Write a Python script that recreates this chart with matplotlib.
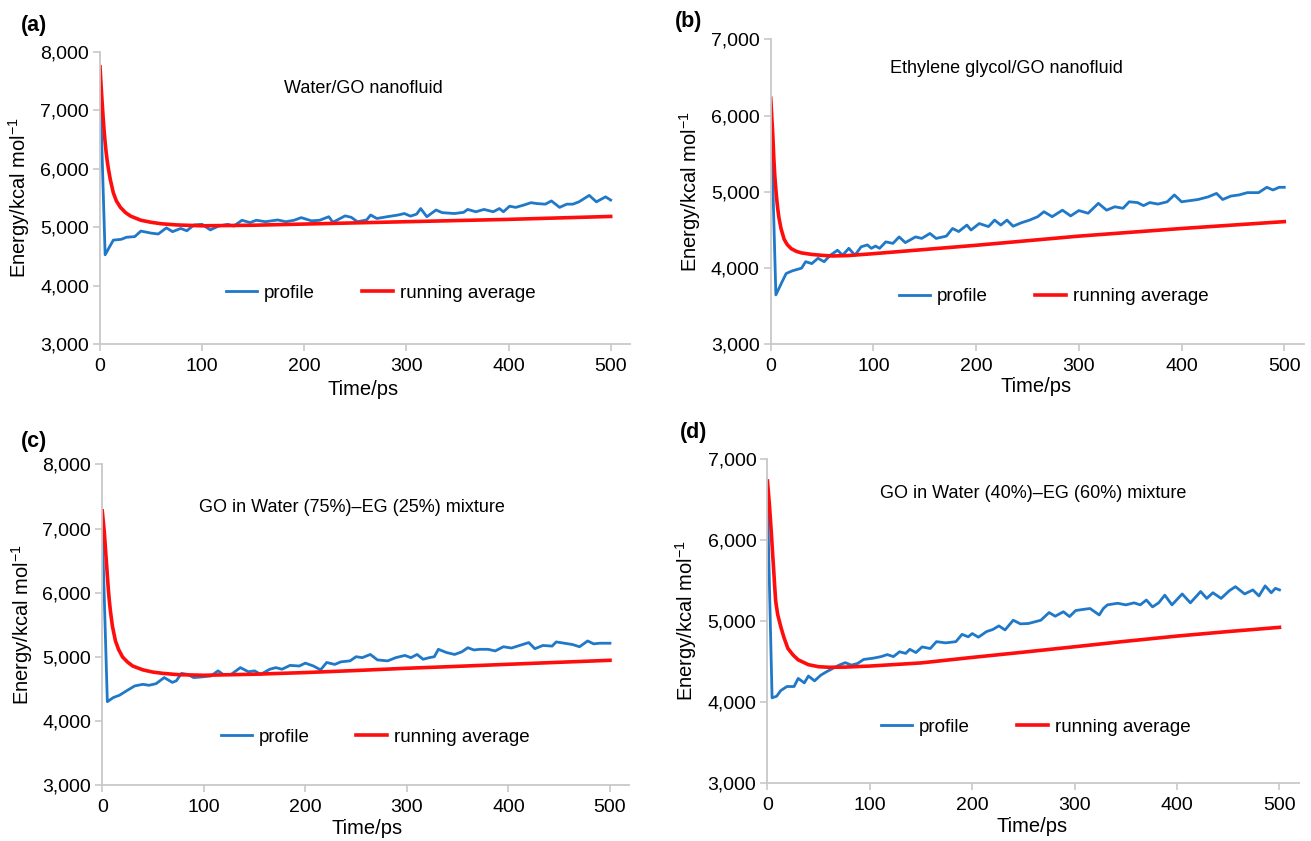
import matplotlib
matplotlib.use('Agg')
import matplotlib.pyplot as plt
from matplotlib.ticker import FuncFormatter

plt.rcParams['font.family'] = ['Liberation Sans', 'DejaVu Sans']
plt.rcParams['mathtext.fontset'] = 'custom'
plt.rcParams['mathtext.rm'] = 'Liberation Sans'
plt.rcParams['mathtext.it'] = 'Liberation Sans:italic'
plt.rcParams['mathtext.bf'] = 'Liberation Sans:bold'

# energy profiles (ps, kcal/mol)
time_a = [0, 5, 13, 21, 26, 34, 40, 50, 57, 65, 71, 79, 85, 92, 100, 108, 116, 125, 131, 139,
          147, 153, 162, 174, 182, 190, 197, 207, 215, 224, 228, 240, 246, 252, 261, 265, 271, 281, 292, 298,
          304, 310, 314, 320, 329, 335, 347, 356, 360, 368, 376, 385, 391, 395, 401, 407, 415, 422, 428, 436,
          442, 450, 457, 463, 469, 479, 486, 495, 500]
profile_a = [7400, 4530, 4780, 4795, 4830, 4840, 4935, 4900, 4885, 4990, 4925, 4980, 4940, 5040, 5050, 4955, 5020, 5050, 5020, 5120,
             5080, 5120, 5095, 5125, 5095, 5120, 5165, 5110, 5120, 5180, 5085, 5195, 5170, 5095, 5125, 5210, 5150, 5180, 5210, 5235,
             5190, 5225, 5320, 5180, 5295, 5250, 5235, 5255, 5305, 5265, 5305, 5265, 5320, 5265, 5360, 5340, 5380, 5420, 5405, 5395,
             5450, 5340, 5395, 5395, 5435, 5545, 5435, 5520, 5465]

time_b = [0, 5, 11, 15, 21, 30, 34, 40, 46, 52, 58, 65, 70, 76, 82, 88, 94, 98, 102, 106,
          112, 119, 125, 131, 141, 147, 155, 161, 171, 177, 183, 191, 195, 203, 212, 218, 224, 230, 236, 244,
          252, 260, 266, 274, 284, 292, 300, 309, 319, 327, 335, 343, 349, 357, 363, 369, 377, 386, 393, 400,
          408, 416, 426, 434, 440, 448, 456, 464, 475, 483, 489, 495, 500]
profile_b = [6100, 3650, 3820, 3930, 3965, 4000, 4085, 4060, 4130, 4085, 4170, 4235, 4170, 4260, 4170, 4280, 4305, 4260, 4290, 4260,
             4345, 4325, 4410, 4335, 4410, 4390, 4455, 4390, 4420, 4520, 4480, 4565, 4500, 4585, 4545, 4630, 4565, 4630, 4550, 4595,
             4630, 4675, 4740, 4675, 4760, 4685, 4755, 4720, 4850, 4760, 4805, 4785, 4870, 4860, 4820, 4860, 4840, 4870, 4960, 4870,
             4885, 4900, 4935, 4980, 4900, 4945, 4960, 4990, 4990, 5060, 5025, 5060, 5060]

time_c = [0, 5, 11, 17, 24, 32, 40, 46, 53, 61, 69, 73, 78, 84, 90, 98, 107, 114, 119, 127,
          136, 144, 150, 156, 165, 171, 177, 185, 194, 200, 208, 215, 221, 229, 235, 244, 250, 256, 264, 271,
          281, 289, 298, 304, 310, 316, 322, 327, 331, 339, 347, 354, 360, 366, 372, 380, 387, 395, 403, 414,
          420, 426, 434, 443, 447, 455, 463, 470, 478, 484, 490, 500]
profile_c = [7000, 4305, 4370, 4405, 4475, 4550, 4575, 4560, 4585, 4680, 4605, 4630, 4745, 4730, 4680, 4690, 4705, 4785, 4730, 4730,
             4835, 4770, 4785, 4730, 4810, 4835, 4810, 4870, 4860, 4905, 4860, 4800, 4915, 4885, 4925, 4940, 5005, 4990, 5040, 4955,
             4940, 4990, 5025, 4990, 5040, 4965, 4990, 5005, 5120, 5070, 5040, 5080, 5145, 5110, 5120, 5120, 5095, 5160, 5140, 5195,
             5225, 5130, 5180, 5170, 5235, 5215, 5195, 5160, 5250, 5205, 5215, 5215]

time_d = [0, 4.5, 9, 13, 19, 26, 30, 36, 40, 46, 52, 58, 64, 70, 76, 82, 88, 94, 103, 111,
          117, 123, 129, 135, 139, 145, 151, 159, 165, 174, 184, 190, 196, 200, 206, 214, 220, 226, 232, 240,
          247, 255, 261, 267, 275, 281, 289, 295, 301, 309, 315, 324, 328, 332, 342, 350, 358, 364, 370, 376,
          382, 388, 395, 405, 413, 423, 429, 435, 443, 451, 457, 466, 474, 480, 486, 492, 496, 500]
profile_d = [6500, 4050, 4070, 4140, 4190, 4190, 4290, 4235, 4320, 4260, 4330, 4375, 4415, 4455, 4485, 4455, 4475, 4525, 4540, 4560,
             4585, 4560, 4620, 4600, 4650, 4610, 4680, 4660, 4745, 4730, 4745, 4835, 4805, 4845, 4800, 4870, 4895, 4940, 4890, 5010,
             4965, 4970, 4990, 5010, 5105, 5060, 5115, 5055, 5130, 5145, 5155, 5075, 5155, 5200, 5220, 5200, 5225, 5200, 5260, 5175,
             5225, 5320, 5200, 5335, 5225, 5365, 5280, 5350, 5280, 5375, 5425, 5335, 5385, 5310, 5435, 5350, 5405, 5385]

# running averages
time_avg = [0, 1, 2, 3, 4, 5, 6, 7, 8, 10, 13, 16, 20, 25, 30, 40, 50, 60, 75, 100,
            150, 200, 250, 300, 350, 400, 450, 500]
avg_a = [7743, 7430, 7150, 6890, 6650, 6450, 6280, 6140, 6020, 5820, 5590, 5450, 5340, 5250, 5190, 5120,
         5085, 5060, 5040, 5025, 5035, 5055, 5075, 5095, 5115, 5135, 5160, 5185]
avg_b = [6228, 5980, 5750, 5440, 5200, 5030, 4880, 4760, 4660, 4520, 4380, 4310, 4255, 4220, 4200, 4180,
         4168, 4160, 4165, 4190, 4245, 4300, 4360, 4420, 4470, 4520, 4565, 4610]
avg_c = [7275, 7110, 6950, 6720, 6500, 6270, 6050, 5870, 5720, 5480, 5250, 5120, 5000, 4920, 4860, 4800,
         4765, 4745, 4725, 4716, 4732, 4758, 4790, 4825, 4855, 4887, 4918, 4949]
avg_d = [6732, 6580, 6420, 6240, 6050, 5840, 5650, 5440, 5250, 5080, 4930, 4800, 4660, 4580, 4520, 4460,
         4435, 4428, 4430, 4443, 4482, 4550, 4615, 4682, 4750, 4814, 4870, 4922]

titles = ['Water/GO nanofluid', 'Ethylene glycol/GO nanofluid',
          'GO in Water (75%)\u2013EG (25%) mixture', 'GO in Water (40%)\u2013EG (60%) mixture']
letters = ['(a)', '(b)', '(c)', '(d)']
ylims = [(3000, 8000), (3000, 7000), (3000, 8000), (3000, 7000)]

panels = [
    dict(rect=[0.0763, 0.5906, 0.4043, 0.3479], t=time_a, p=profile_a, avg=avg_a,
         note=(0.496, 0.876), leg=(0.530, 0.175), xl=(0.496, -0.122), yl=-0.128, tag=(21, 26)),
    dict(rect=[0.5879, 0.5904, 0.4066, 0.3629], t=time_b, p=profile_b, avg=avg_b,
         note=(0.443, 0.903), leg=(0.531, 0.156), xl=(0.497, -0.105), yl=-0.128, tag=(675, 22)),
    dict(rect=[0.0780, 0.0660, 0.4020, 0.3819], t=time_c, p=profile_c, avg=avg_c,
         note=(0.474, 0.864), leg=(0.518, 0.151), xl=(0.503, -0.105), yl=-0.128, tag=(21, 442)),
    dict(rect=[0.5854, 0.0693, 0.4054, 0.3845], t=time_d, p=profile_d, avg=avg_d,
         note=(0.4995, 0.893), leg=(0.505, 0.172), xl=(0.498, -0.107), yl=-0.128, tag=(680, 433)),
]

W, H = 1311, 841
fig = plt.figure(figsize=(W / 100, H / 100), dpi=100)
grey = '#c8c8c8'

for i, pn in enumerate(panels):
    ax = fig.add_axes(pn['rect'])
    ax.plot(pn['t'], pn['p'], color='#1f78c8', lw=2.0, label='profile')
    ax.plot(time_avg, pn['avg'], color='#ff0d0d', lw=2.6, label='running average')
    ax.set_xlim(0, 519)
    ax.set_ylim(*ylims[i])
    ax.set_xticks([0, 100, 200, 300, 400, 500])
    ax.set_yticks(range(ylims[i][0], ylims[i][1] + 1, 1000))
    ax.yaxis.set_major_formatter(FuncFormatter(lambda v, _: '{:,.0f}'.format(v)))
    for s in ['top', 'right']:
        ax.spines[s].set_visible(False)
    for s in ['left', 'bottom']:
        ax.spines[s].set_color(grey)
        ax.spines[s].set_linewidth(1.3)
    ax.tick_params(direction='out', length=5, width=1.2, color=grey, labelsize=14)
    ax.tick_params(axis='y', pad=3)
    ax.tick_params(axis='x', pad=5)

    ax.set_xlabel('Time/ps', fontsize=14.5, va='top')
    ax.xaxis.set_label_coords(*pn['xl'])
    ax.set_ylabel('Energy/kcal mol$^{-1}$', fontsize=14.5)
    ax.yaxis.set_label_coords(pn['yl'], 0.5)

    ax.text(*pn['note'], titles[i], transform=ax.transAxes, ha='center', va='center', fontsize=13)
    ax.legend(loc='center', bbox_to_anchor=pn['leg'], ncol=2, frameon=False, fontsize=13.5,
              handlelength=1.65, handletextpad=0.37, columnspacing=2.5)

    fig.text(pn['tag'][0] / W, 1 - pn['tag'][1] / H, letters[i], fontsize=15.5,
             fontweight='bold', ha='left', va='center')

fig.savefig('out.png', dpi=100)
